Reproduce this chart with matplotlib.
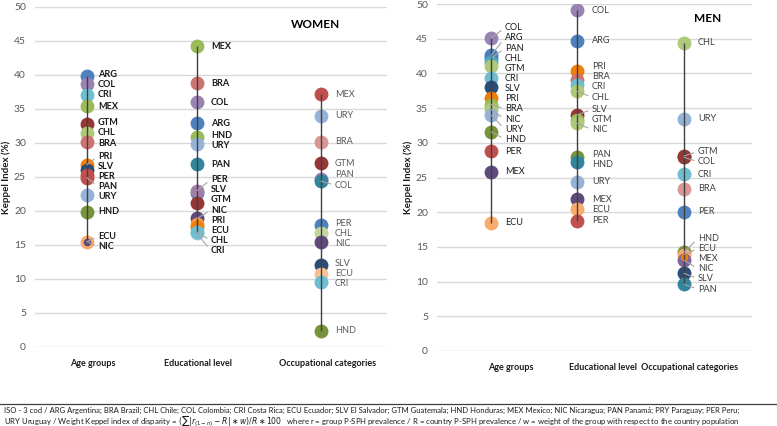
import numpy as np
import matplotlib
matplotlib.use("Agg")
import matplotlib.pyplot as plt

plt.rcParams['font.family'] = ['Lato', 'DejaVu Sans']

# ---------------- data ----------------
categories = ["Age groups", "Educational level", "Occupational categories"]

# WOMEN
w_age_c = ["ARG", "COL", "CRI", "MEX", "GTM", "CHL", "BRA", "PRI", "SLV", "PER", "PAN", "URY", "HND", "ECU", "NIC"]
w_age_v = [39.9, 38.7, 37.1, 35.4, 32.8, 31.5, 30.2, 26.8, 26.0, 25.3, 24.9, 22.4, 19.9, 15.5, 15.5]
w_age_col = ["#4F81BD", "#9983B5", "#6FBDD1", "#9BBB59", "#953735", "#AFC97A", "#CD7371", "#F07F09",
             "#2C4D75", "#C0504D", "#C0504D", "#95B3D7", "#77933C", "#F9AB6B", "#604A7B"]

w_edu_c = ["MEX", "BRA", "COL", "ARG", "HND", "URY", "PAN", "SLV", "PER", "GTM", "NIC", "PRI", "ECU", "CRI", "CHL"]
w_edu_v = [44.2, 38.8, 36.0, 32.9, 30.9, 29.9, 26.9, 22.7, 23.0, 21.2, 18.9, 18.1, 17.6, 16.7, 16.9]
w_edu_col = ["#9BBB59", "#CD7371", "#9983B5", "#4F81BD", "#9BBB59", "#95B3D7", "#31859C", "#4F81BD",
             "#A17FA8", "#953735", "#604A7B", "#F79646", "#F07F09", "#93CDDD", "#6FBDD1"]

w_occ_c = ["MEX", "URY", "BRA", "GTM", "PAN", "COL", "PER", "CHL", "NIC", "SLV", "ECU", "CRI", "HND"]
w_occ_v = [37.2, 34.0, 30.2, 27.0, 24.7, 24.4, 17.9, 16.8, 15.5, 12.1, 10.7, 9.6, 2.4]
w_occ_col = ["#C0504D", "#95B3D7", "#D99694", "#953735", "#9983B5", "#31859C", "#4F81BD", "#C3D69B",
             "#604A7B", "#2C4D75", "#FAC090", "#6FBDD1", "#77933C"]

# MEN
m_age_c = ["COL", "ARG", "PAN", "CHL", "GTM", "CRI", "SLV", "PRI", "BRA", "NIC", "URY", "HND", "PER", "MEX", "ECU"]
m_age_v = [45.1, 42.6, 42.2, 41.7, 41.0, 39.3, 38.1, 36.5, 35.5, 34.8, 34.0, 31.6, 28.8, 25.8, 18.5]
m_age_col = ["#9983B5", "#4F81BD", "#4A7EBB", "#4BACC6", "#AFC97A", "#6FBDD1", "#2C4D75", "#F07F09",
             "#9BBB59", "#AFC97A", "#95B3D7", "#77933C", "#C0504D", "#604A7B", "#F9AB6B"]

m_edu_c = ["COL", "ARG", "PRI", "BRA", "CRI", "CHL", "SLV", "GTM", "NIC", "PAN", "HND", "URY", "MEX", "ECU", "PER"]
m_edu_v = [49.1, 44.7, 40.4, 39.0, 38.3, 37.4, 34.0, 33.3, 32.8, 27.9, 27.3, 24.4, 21.9, 20.4, 18.8]
m_edu_col = ["#9983B5", "#4F81BD", "#F07F09", "#CD7371", "#6FBDD1", "#AFC97A", "#953735", "#9BBB59",
             "#AFC97A", "#77933C", "#31859C", "#95B3D7", "#604A7B", "#F9AB6B", "#C0504D"]

m_occ_c = ["CHL", "URY", "GTM", "COL", "CRI", "BRA", "PER", "HND", "ECU", "NIC", "MEX", "SLV", "PAN"]
m_occ_v = [44.4, 33.5, 28.1, 27.9, 25.5, 23.4, 20.1, 14.2, 13.9, 13.1, 13.5, 11.2, 9.6]
m_occ_col = ["#AFC97A", "#95B3D7", "#953735", "#953735", "#6FBDD1", "#D99694", "#4F81BD", "#77933C",
             "#F9AB6B", "#8064A2", "#F07F09", "#2C4D75", "#31859C"]

yticks = [0, 5, 10, 15, 20, 25, 30, 35, 40, 45, 50]


def spread(vals, gap):
    vals = np.asarray(vals, float)
    order = list(np.argsort(-vals, kind="stable"))
    clusters = [[i] for i in order]

    def lay(cl):
        c = np.mean(vals[cl])
        top = c + gap * (len(cl) - 1) / 2
        return [top - k * gap for k in range(len(cl))]

    changed = True
    while changed:
        changed = False
        for j in range(len(clusters) - 1):
            a = lay(clusters[j])
            b = lay(clusters[j + 1])
            if a[-1] - b[0] < gap - 1e-9:
                clusters[j] = clusters[j] + clusters[j + 1]
                del clusters[j + 1]
                changed = True
                break
    pos = np.zeros(len(vals))
    for cl in clusters:
        for i, p in zip(cl, lay(cl)):
            pos[i] = p
    return pos


fig = plt.figure(figsize=(7.77, 4.26), dpi=100)

panels = [
    dict(rect=[35 / 777, 1 - 347 / 426, 352 / 777, 340 / 426], xlim=(0, 352),
         xs=[52, 162, 286], xl=[58, 163, 293], dx=[11, 14, 14],
         data=[(w_age_c, w_age_v, w_age_col), (w_edu_c, w_edu_v, w_edu_col), (w_occ_c, w_occ_v, w_occ_col)],
         title="WOMEN", title_xy=(316, 25), gap=1.5, small=("NIC", 0),
         lab_style=[dict(weight="bold", color="#1a1a1a"), dict(weight="bold", color="#1a1a1a"),
                    dict(weight="normal", color="#595959")]),
    dict(rect=[437 / 777, 1 - 351 / 426, 315 / 777, 347 / 426], xlim=(0, 315),
         xs=[54, 140, 247], xl=[74, 166, 253], dx=[14, 15, 14],
         data=[(m_age_c, m_age_v, m_age_col), (m_edu_c, m_edu_v, m_edu_col), (m_occ_c, m_occ_v, m_occ_col)],
         title="MEN", title_xy=(708, 19), gap=1.46, small=("MEX", 2),
         lab_style=[dict(weight="normal", color="#1a1a1a"), dict(weight="normal", color="#404040"),
                    dict(weight="normal", color="#404040")]),
]

for p in panels:
    ax = fig.add_axes(p["rect"])
    ax.set_xlim(*p["xlim"])
    ax.set_ylim(0, 50)
    ax.set_yticks(yticks)
    ax.yaxis.grid(True, color="#D9D9D9", lw=1)
    ax.set_axisbelow(True)
    for s in ax.spines.values():
        s.set_visible(False)
    ax.tick_params(axis="y", length=0, labelsize=7.5, labelcolor="#595959", pad=6.5)
    ax.set_xticks(p["xl"])
    ax.set_xticklabels(categories, fontsize=6.5, fontweight="bold", color="#1a1a1a")
    ax.tick_params(axis="x", length=0, pad=8.5)
    ax.set_ylabel("Keppel Index (%)", fontsize=7, fontweight="bold", color="#1a1a1a", labelpad=2)
    fig.text(p["title_xy"][0] / 777, 1 - p["title_xy"][1] / 426, p["title"],
             fontsize=8.5, fontweight="bold", ha="center", va="center")

    for k, (names, vals, cols) in enumerate(p["data"]):
        x = p["xs"][k]
        vals = np.asarray(vals, float)
        ax.vlines(x, vals.min(), vals.max(), color="#404040", lw=1.0, zorder=4)
        for n, v, c in zip(names, vals, cols):
            size = 30 if (n, k) == p["small"] else 100
            ax.scatter([x], [v], s=size, color=c, zorder=3, linewidths=0)
        pos = spread(vals, p["gap"])
        st = p["lab_style"][k]
        dx = p["dx"][k]
        for n, v, ly in zip(names, vals, pos):
            if abs(ly - v) > 0.6:
                ax.annotate(n, xy=(x, v), xytext=(x + dx, ly), fontsize=6.6, va="center", ha="left",
                            fontweight=st["weight"], color=st["color"], zorder=5,
                            arrowprops=dict(arrowstyle="-", color="#A6A6A6", lw=0.8,
                                            shrinkA=1, shrinkB=0, relpos=(0, 0.5)))
            else:
                ax.text(x + dx, ly, n, fontsize=6.6, va="center", ha="left",
                        fontweight=st["weight"], color=st["color"], zorder=5)

# separator and footnote
fig.add_artist(plt.Line2D([0, 1], [1 - 404 / 426, 1 - 404 / 426], color="#404040", lw=0.9))
line1 = ("ISO - 3 cod / ARG Argentina; BRA Brazil; CHL Chile; COL Colombia; CRI Costa Rica; ECU Ecuador; "
         "SLV El Salvador; GTM Guatemala; HND Honduras; MEX Mexico; NIC Nicaragua; PAN Panamá; PRY Paraguay; PER Peru;")
line2 = (r"URY Uruguay / Weight Keppel index of disparity = $(\sum|r_{(1-n)}-R|\ast w)/R\ast 100$"
         "   where r = group P-SPH prevalence / R = country P-SPH prevalence / w = weight of the group "
         "with respect to the country population")
fig.text(4 / 777, 1 - 410 / 426, line1, fontsize=5.5, ha="left", va="center", color="#1a1a1a")
fig.text(4 / 777, 1 - 420 / 426, line2, fontsize=5.6, ha="left", va="center", color="#1a1a1a")

fig.savefig("out.png", dpi=100)
